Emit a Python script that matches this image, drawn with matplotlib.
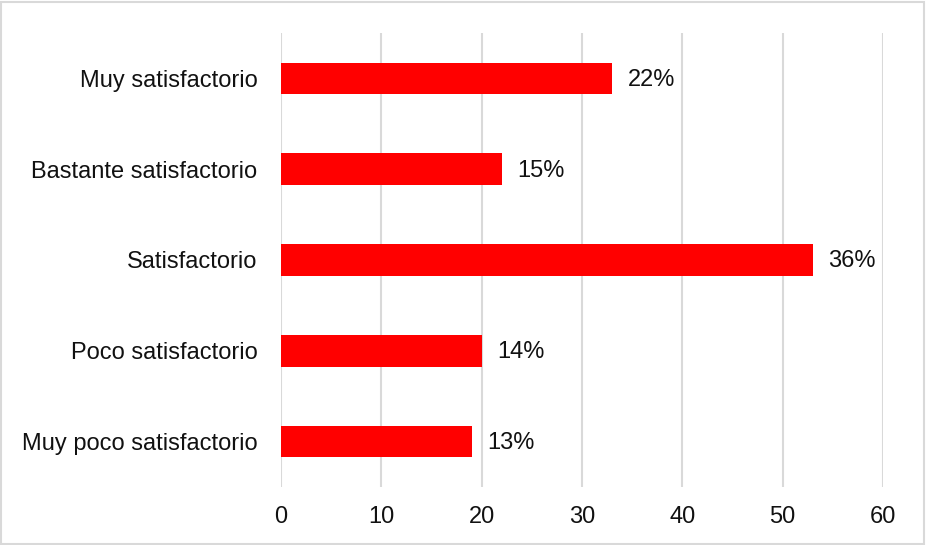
import matplotlib.pyplot as plt
from matplotlib.patches import Rectangle

plt.rcParams['font.family'] = ['Liberation Sans', 'DejaVu Sans']

categorias = ["Muy satisfactorio", "Bastante satisfactorio", "Satisfactorio",
              "Poco satisfactorio", "Muy poco satisfactorio"]
valores = [33, 22, 53, 20, 19]
porcentajes = ["22%", "15%", "36%", "14%", "13%"]
ticks_x = [0, 10, 20, 30, 40, 50, 60]

fig = plt.figure(figsize=(9.26, 5.45), dpi=100)
ax = fig.add_axes([281 / 926, 58 / 545, 602 / 926, 454 / 545])

pos = list(range(len(categorias)))[::-1]
barras = ax.barh(pos, valores, height=0.35, color="#ff0000", zorder=3)

for b, txt in zip(barras, porcentajes):
    ax.annotate(txt, xy=(b.get_width(), b.get_y() + b.get_height() / 2),
                xytext=(11, -1), textcoords="offset points",
                ha="left", va="center", fontsize=17, color="#111111")

ax.set_xlim(0, 60)
ax.set_ylim(-0.5, len(categorias) - 0.5)
ax.set_xticks(ticks_x)
ax.set_yticks(pos)
ax.set_yticklabels(categorias)
ax.tick_params(axis="both", length=0, labelsize=17, colors="#111111")
ax.tick_params(axis="y", pad=17)
ax.tick_params(axis="x", pad=14)

ax.grid(axis="x", color="#d9d9d9", linewidth=1.5, zorder=0)
for s in ax.spines.values():
    s.set_visible(False)

# marco exterior del grafico
fig.patches.append(Rectangle((0.001, 0.002), 0.997, 0.995, transform=fig.transFigure,
                             fill=False, edgecolor="#d9d9d9", linewidth=1.5))

fig.savefig("out.png", dpi=100)
